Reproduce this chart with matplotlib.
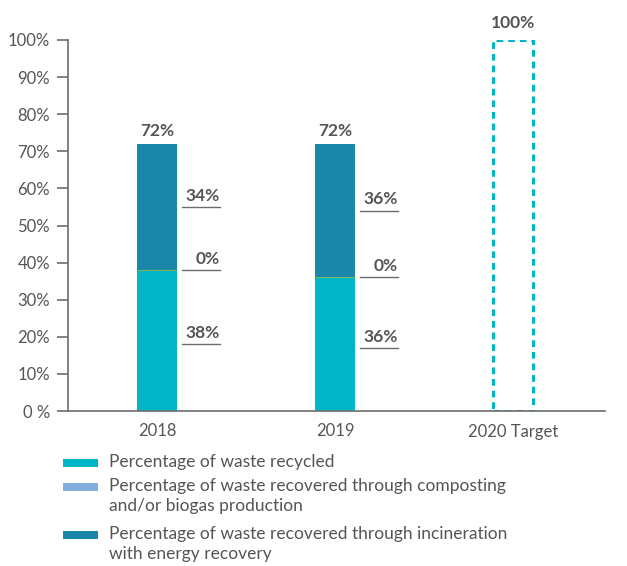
import matplotlib
matplotlib.use("Agg")
import matplotlib.pyplot as plt
from matplotlib.patches import Rectangle

plt.rcParams['font.family'] = ['Lato', 'DejaVu Sans']

categories = ["2018", "2019", "2020 Target"]
recycled = [38, 36]
composting = [0, 0]
incineration = [34, 36]
totals = [72, 72]
target = 100
y_ticks = [0, 10, 20, 30, 40, 50, 60, 70, 80, 90, 100]
y_tick_labels = ["0 %", "10%", "20%", "30%", "40%", "50%", "60%", "70%", "80%", "90%", "100%"]
legend_labels = [
    "Percentage of waste recycled",
    "Percentage of waste recovered through composting\nand/or biogas production",
    "Percentage of waste recovered through incineration\nwith energy recovery",
]

c_recycled = "#00B6C6"
c_compost = "#7FAEDC"
c_incin = "#1A87A8"
c_text = "#555555"
c_axis = "#6d6d6d"

W, H = 627, 566
fig = plt.figure(figsize=(W / 100, H / 100), dpi=100)
ax = fig.add_axes([68 / W, 155 / H, 537 / W, 371 / H])

x = list(range(len(categories)))
w = 0.23

# Stacked bars for the reported years
xs = x[:2]
ax.bar(xs, recycled, width=w, color=c_recycled, zorder=2)
ax.bar(xs, composting, width=w, bottom=recycled, color=c_compost,
       edgecolor="#9ab84a", linewidth=0.6, zorder=3)
bottoms = [r + c for r, c in zip(recycled, composting)]
ax.bar(xs, incineration, width=w, bottom=bottoms, color=c_incin, zorder=2)

# Target bar drawn as a dashed outline
ax.bar(x[2], target, width=w, fill=False, edgecolor=c_recycled,
       linewidth=2.2, linestyle=(0, (2.2, 1.6)), zorder=2)

label_kw = dict(fontsize=12.5, fontweight="bold", color=c_text, ha="center", va="bottom")
for xi, t in zip(xs, totals):
    ax.text(xi, t + 1.2, f"{t}%", clip_on=False, **label_kw)
ax.text(x[2], target + 2.3, f"{target}%", clip_on=False, **label_kw)

# Segment labels with underline to the right of each bar
def seg_label(xi, yv, val):
    x0, x1 = xi + 0.14, xi + 0.355
    ax.plot([x0, x1], [yv, yv], color=c_axis, lw=1.0, clip_on=False, zorder=3)
    ax.text(x1, yv + 0.9, f"{val}%", ha="right", va="bottom", fontsize=12.5,
            fontweight="bold", color=c_text)

for xi, r, c, inc in zip(xs, recycled, composting, incineration):
    seg_label(xi, r / 2 - 1, r)
    seg_label(xi, r + c, c)
    seg_label(xi, r + c + inc / 2, inc)

ax.set_xlim(-0.5, 2.517)
ax.set_ylim(0, 100)
ax.set_yticks(y_ticks)
ax.set_yticklabels(y_tick_labels)
ax.set_xticks(x)
ax.set_xticklabels(categories)

for s in ["top", "right"]:
    ax.spines[s].set_visible(False)
for s in ["left", "bottom"]:
    ax.spines[s].set_color(c_axis)
    ax.spines[s].set_linewidth(1.2)
ax.tick_params(axis="y", length=8, width=1.2, color=c_axis, labelsize=12,
               labelcolor=c_text, pad=5)
ax.tick_params(axis="x", length=0, labelsize=12, labelcolor=c_text, pad=9)

# Legend: swatch aligned with the first line of each entry
swatch_y = [463, 486.5, 535]
text_y = [464, 487.5, 535.5]
colors = [c_recycled, c_compost, c_incin]
for sy, ty, col, lab in zip(swatch_y, text_y, colors, legend_labels):
    fig.patches.append(Rectangle((63 / W, 1 - (sy + 4) / H), 35 / W, 8 / H,
                                 transform=fig.transFigure, facecolor=col,
                                 edgecolor="none"))
    fig.text(109 / W, 1 - (ty - 9.5) / H, lab, ha="left", va="top", fontsize=12.5,
             color=c_text, linespacing=1.3)

fig.savefig("out.png", dpi=100)
